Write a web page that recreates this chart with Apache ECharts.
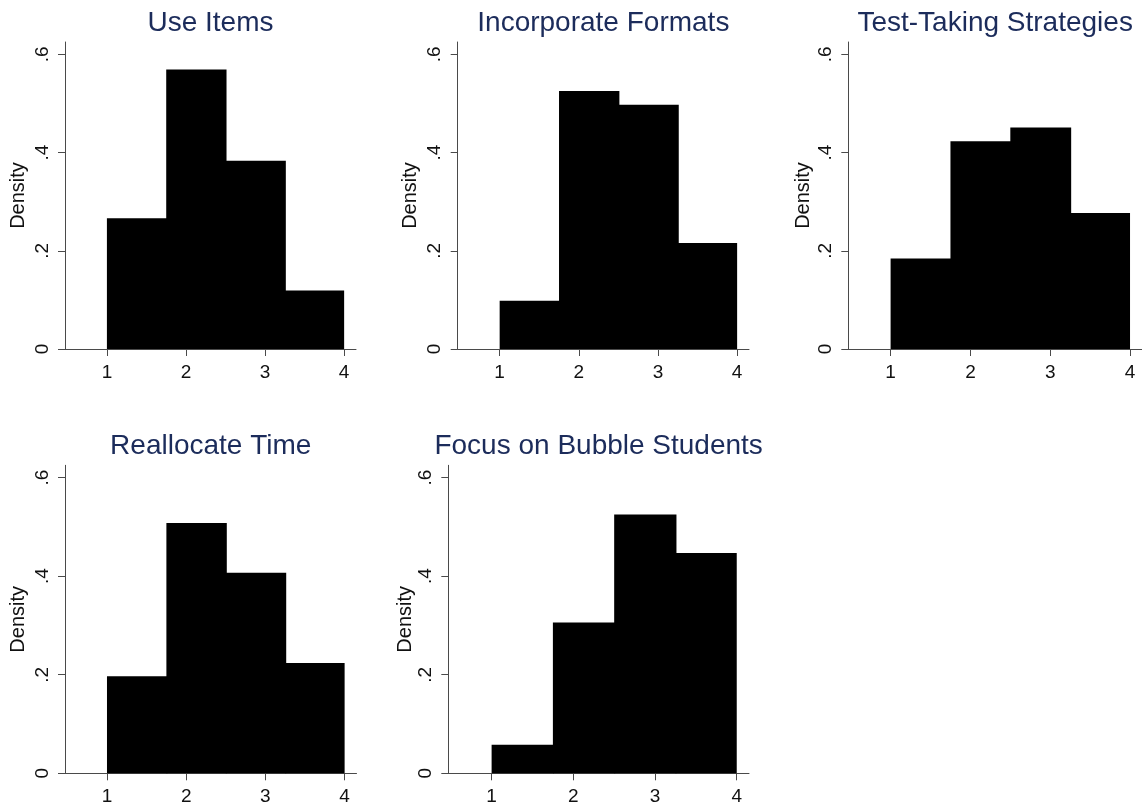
<!DOCTYPE html>
<html>
<head>
<meta charset="utf-8">
<script src="https://cdn.jsdelivr.net/npm/echarts@6.0.0/dist/echarts.min.js"></script>
<style>
  html, body { margin: 0; padding: 0; background: #fff; }
  #chart { width: 1142px; height: 807px; }
</style>
</head>
<body>
<div id="chart"></div>
<script>
var chart = echarts.init(document.getElementById('chart'));

// histogram data: bin edges shared by all panels, density per bin
var titles = ['Use Items', 'Incorporate Formats', 'Test-Taking Strategies', 'Reallocate Time', 'Focus on Bubble Students'];
var binEdges = [1, 1.75, 2.5, 3.25, 4];
var useItems = [0.266, 0.569, 0.383, 0.119];
var incorporateFormats = [0.098, 0.525, 0.497, 0.216];
var testTaking = [0.184, 0.423, 0.451, 0.277];
var reallocateTime = [0.197, 0.508, 0.407, 0.224];
var bubbleStudents = [0.058, 0.306, 0.525, 0.447];
var densities = [useItems, incorporateFormats, testTaking, reallocateTime, bubbleStudents];

var xTicks = [1, 2, 3, 4];
var yTicks = [0, 0.2, 0.4, 0.6];
var yTickLabels = ['0', '.2', '.4', '.6'];

// plot boxes (px): left, top, width, height, gap of the "Density" name
var boxes = [
  [65, 42, 291, 307, 37],
  [457.7, 42, 291.3, 307, 37],
  [848.3, 42, 293.7, 307, 34.5],
  [65, 465.3, 291.5, 308, 36.5],
  [448.3, 465.3, 300.7, 308, 29]
];

var axisColor = '#4a4a4a';
var font = '"Liberation Sans", Arial, Helvetica, sans-serif';

var option = { animation: false, title: [], grid: [], xAxis: [], yAxis: [], series: [] };

boxes.forEach(function (b, i) {
  option.title.push({
    text: titles[i],
    left: b[0] + b[2] / 2,
    top: b[1] - 33,
    textAlign: 'center',
    padding: 0,
    textStyle: { color: '#1c2c5b', fontSize: 28, fontWeight: 'normal', fontFamily: font }
  });
  option.grid.push({ left: b[0], top: b[1], width: b[2], height: b[3], containLabel: false });
  option.xAxis.push({
    type: 'value', gridIndex: i, min: 0.47, max: 4.15,
    splitLine: { show: false },
    axisLine: { show: true, onZero: false, lineStyle: { color: axisColor, width: 1 } },
    axisTick: { show: true, length: 7, customValues: xTicks, lineStyle: { color: axisColor } },
    axisLabel: {
      customValues: xTicks, margin: 14, color: '#111', fontSize: 19, fontFamily: font,
      formatter: function (v) { return String(v); }
    }
  });
  option.yAxis.push({
    type: 'value', gridIndex: i, min: 0, max: 0.625,
    name: 'Density', nameLocation: 'middle', nameRotate: 90, nameGap: b[4],
    nameTextStyle: { color: '#111', fontSize: 20, fontFamily: font },
    splitLine: { show: false },
    axisLine: { show: true, lineStyle: { color: axisColor, width: 1 } },
    axisTick: { show: true, length: 7, customValues: yTicks, lineStyle: { color: axisColor } },
    axisLabel: {
      customValues: yTicks, rotate: 90, margin: 13, color: '#111', fontSize: 19, fontFamily: font,
      formatter: function (v) { return yTickLabels[yTicks.indexOf(Math.round(v * 10) / 10)]; }
    }
  });
  var rows = densities[i].map(function (d, k) { return [binEdges[k], binEdges[k + 1], d]; });
  option.series.push({
    type: 'custom', xAxisIndex: i, yAxisIndex: i,
    data: rows,
    encode: { x: [0, 1], y: 2 },
    renderItem: function (params, api) {
      var p0 = api.coord([api.value(0), api.value(2)]);
      var p1 = api.coord([api.value(1), 0]);
      // overlap the next bar by a pixel so no seam shows between bins
      var extra = params.dataIndex < rows.length - 1 ? 1 : 0;
      return {
        type: 'rect',
        shape: { x: p0[0], y: p0[1], width: p1[0] - p0[0] + extra, height: p1[1] - p0[1] },
        style: { fill: '#000' }
      };
    }
  });
});

chart.setOption(option);
</script>
</body>
</html>
